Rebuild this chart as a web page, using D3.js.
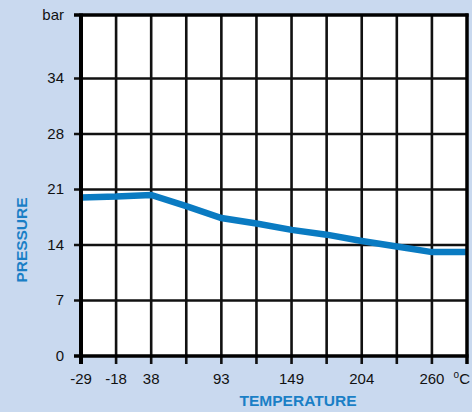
<!DOCTYPE html>
<html>
<head>
<meta charset="utf-8">
<script src="https://cdn.jsdelivr.net/npm/d3@7"></script>
<style>
  html, body { margin: 0; padding: 0; background: #c9d9ef; }
  svg { display: block; font-family: "Liberation Sans", Arial, sans-serif; }
</style>
</head>
<body>
<svg id="chart" width="472" height="412"></svg>
<script>
// column labels along the temperature axis (one per grid column)
var tempLabels = ['-29', '-18', '38', '', '93', '', '149', '', '204', '', '260', 'C'];
// pressure read at each column (bar)
var pressure = [20.0, 20.1, 20.3, 18.9, 17.4, 16.7, 15.9, 15.3, 14.5, 13.8, 13.1, 13.1];
// pressure axis
var pressureTicks = [0, 7, 14, 21, 28, 35, 43];
var pressureLabels = ['0', '7', '14', '21', '28', '34', 'bar'];

var margin = {top: 15, right: 5, bottom: 56, left: 81},
    width = 472,
    height = 412,
    innerW = width - margin.left - margin.right,
    innerH = height - margin.top - margin.bottom;

var svg = d3.select('#chart');
var g = svg.append('g').attr('transform', 'translate(' + margin.left + ',' + margin.top + ')');

var x = d3.scaleLinear().domain([0, tempLabels.length - 1]).range([0, innerW]);
var y = d3.scaleLinear().domain([0, 43]).range([innerH, 0]);

// plot background
g.append('rect')
  .attr('width', innerW)
  .attr('height', innerH)
  .attr('fill', '#fff');

// grid
g.selectAll('line.vgrid').data(d3.range(1, tempLabels.length - 1))
  .enter().append('line')
  .attr('class', 'vgrid')
  .attr('x1', function(d) { return x(d); })
  .attr('x2', function(d) { return x(d); })
  .attr('y1', 0).attr('y2', innerH + 8)
  .attr('stroke', '#111').attr('stroke-width', 2.6);

g.selectAll('line.hgrid').data(pressureTicks.slice(1, -1))
  .enter().append('line')
  .attr('class', 'hgrid')
  .attr('x1', -7).attr('x2', innerW)
  .attr('y1', function(d) { return y(d); })
  .attr('y2', function(d) { return y(d); })
  .attr('stroke', '#111').attr('stroke-width', 2.6);

// pressure curve
var line = d3.line()
  .x(function(d, i) { return x(i); })
  .y(function(d) { return y(d); });

g.append('path')
  .datum(pressure)
  .attr('d', line)
  .attr('fill', 'none')
  .attr('stroke', '#0a7bc2')
  .attr('stroke-width', 6.5);

// frame
g.append('line').attr('x1', -7).attr('x2', innerW + 1.5).attr('y1', 0).attr('y2', 0)
  .attr('stroke', '#000').attr('stroke-width', 3.5);
g.append('line').attr('x1', -7).attr('x2', innerW + 1.5).attr('y1', innerH).attr('y2', innerH)
  .attr('stroke', '#000').attr('stroke-width', 3.5);
g.append('line').attr('x1', 0).attr('x2', 0).attr('y1', -1.5).attr('y2', innerH + 8)
  .attr('stroke', '#000').attr('stroke-width', 4);
g.append('line').attr('x1', innerW).attr('x2', innerW).attr('y1', -1.5).attr('y2', innerH + 8)
  .attr('stroke', '#000').attr('stroke-width', 3.5);

// y tick labels
g.selectAll('text.ylab').data(pressureTicks)
  .enter().append('text')
  .attr('class', 'ylab')
  .attr('x', -17)
  .attr('y', function(d) { return y(d) + 5; })
  .attr('text-anchor', 'end')
  .attr('font-size', 15)
  .attr('fill', '#111')
  .text(function(d, i) { return pressureLabels[i]; });

// x tick labels
g.selectAll('text.xlab').data(tempLabels.slice(0, -1))
  .enter().append('text')
  .attr('class', 'xlab')
  .attr('x', function(d, i) { return x(i); })
  .attr('y', innerH + 28)
  .attr('text-anchor', 'middle')
  .attr('font-size', 15)
  .attr('fill', '#111')
  .text(function(d) { return d; });

// degree unit with raised o
var unit = g.append('text')
  .attr('x', x(tempLabels.length - 1) + 3)
  .attr('y', innerH + 28)
  .attr('text-anchor', 'end')
  .attr('font-size', 15)
  .attr('fill', '#111');
unit.append('tspan').attr('font-size', 10).attr('dy', -6).text('o');
unit.append('tspan').attr('dy', 6).text(tempLabels[tempLabels.length - 1]);

// axis titles
svg.append('text')
  .attr('x', 298)
  .attr('y', 406)
  .attr('text-anchor', 'middle')
  .attr('font-size', 14.5)
  .attr('font-weight', 'bold')
  .attr('fill', '#1a7fc6')
  .attr('textLength', 117)
  .attr('lengthAdjust', 'spacingAndGlyphs')
  .text('TEMPERATURE');

svg.append('text')
  .attr('transform', 'translate(27,240) rotate(-90)')
  .attr('text-anchor', 'middle')
  .attr('font-size', 14.5)
  .attr('font-weight', 'bold')
  .attr('fill', '#1a7fc6')
  .attr('textLength', 85)
  .attr('lengthAdjust', 'spacingAndGlyphs')
  .text('PRESSURE');
</script>
</body>
</html>
